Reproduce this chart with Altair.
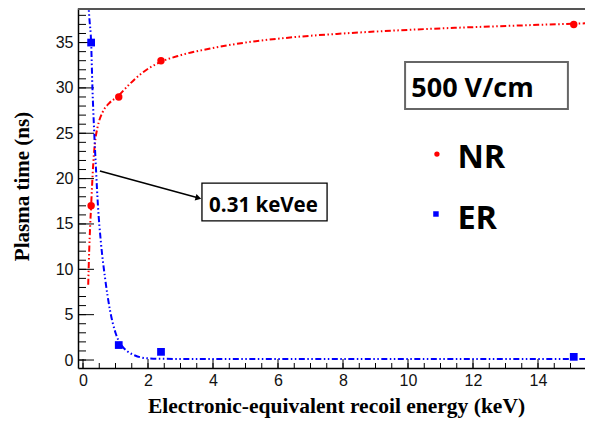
import altair as alt
import pandas as pd

# ---- data ----
nr_x = [0.25, 1.1, 2.4, 15.1]
nr_y = [17.0, 29.0, 33.0, 37.0]
er_x = [0.25, 1.1, 2.4, 15.1]
er_y = [35.0, 1.65, 0.9, 0.35]

nr_fit_x = [0.16, 0.19, 0.22, 0.25, 0.28, 0.32, 0.37, 0.45, 0.6, 0.8, 1.05, 1.4, 1.8, 2.35, 3.0, 4.0, 5.0, 6.5, 8.0, 10.0, 12.0, 14.0, 15.7]
nr_fit_y = [8.3, 12.0, 14.8, 17.0, 19.3, 21.9, 24.0, 25.7, 27.3, 28.3, 29.0, 30.3, 31.6, 32.8, 33.6, 34.4, 35.0, 35.6, 36.0, 36.4, 36.7, 36.95, 37.15]
er_fit_x = [0.16, 0.2, 0.25, 0.29, 0.34, 0.4, 0.46, 0.55, 0.68, 0.83, 1.0, 1.15, 1.35, 1.6, 1.9, 2.3, 3.0, 5.0, 8.0, 12.0, 15.7]
er_fit_y = [39.5, 37.5, 35.0, 30.0, 25.5, 21.0, 17.0, 13.0, 9.0, 5.5, 3.0, 1.8, 1.0, 0.5, 0.22, 0.14, 0.12, 0.12, 0.12, 0.12, 0.12]

x_major = [0, 2, 4, 6, 8, 10, 12, 14]
x_minor = [i * 0.5 for i in range(0, 31)]
y_major = [0, 5, 10, 15, 20, 25, 30, 35]
y_minor = list(range(0, 39))

field_label = "500 V/cm"
nr_label = "NR"
er_label = "ER"
arrow_label = "0.31 keVee"
x_title = "Electronic-equivalent recoil energy (keV)"
y_title = "Plasma time (ns)"

W, H = 507, 360
xs = alt.Scale(domain=[-0.154, 15.446], nice=False, zero=False)
ys = alt.Scale(domain=[-0.88, 38.81], nice=False, zero=False)

RED = "#ff0000"
BLUE = "#0000ff"
DASH = [6, 2.5, 1.5, 2.5, 1.5, 2.5]

axis_common = dict(grid=False, ticks=False, domainColor="black", domainWidth=1.5,
                   labelFont="Liberation Sans", labelFontSize=16, labelColor="#111",
                   titleFont="Liberation Serif", titleFontWeight="bold",
                   titleColor="black", titleBaseline="alphabetic", titleAlign="center")
xa = alt.Axis(values=x_major, format="d", title=x_title, labelPadding=4, titleFontSize=21.5,
              titleX=258, titleY=44, **axis_common)
ya = alt.Axis(values=y_major, format="d", title=y_title, labelPadding=5, titleFontSize=21,
              titleX=-50, titleY=178, titleAngle=270, **axis_common)


def XF(f):
    return alt.X(f, scale=xs, axis=xa, title=x_title)


def YF(f):
    return alt.Y(f, scale=ys, axis=ya, title=y_title)


def XD(v):
    return alt.XDatum(v, scale=xs, axis=xa, title=x_title)


def YD(v):
    return alt.YDatum(v, scale=ys, axis=ya, title=y_title)


nr_line = alt.Chart(pd.DataFrame({"x": nr_fit_x, "y": nr_fit_y})).mark_line(
    color=RED, strokeWidth=2, strokeDash=DASH, interpolate="monotone", clip=True).encode(
    x=XF("x:Q"), y=YF("y:Q"))

er_line = alt.Chart(pd.DataFrame({"x": er_fit_x, "y": er_fit_y})).mark_line(
    color=BLUE, strokeWidth=2, strokeDash=DASH, interpolate="monotone", clip=True).encode(
    x=XF("x:Q"), y=YF("y:Q"))

nr_pts = alt.Chart(pd.DataFrame({"x": nr_x, "y": nr_y})).mark_point(
    shape="circle", filled=True, color=RED, size=55, opacity=1).encode(
    x=XF("x:Q"), y=YF("y:Q"))

er_pts = alt.Chart(pd.DataFrame({"x": er_x, "y": er_y})).mark_point(
    shape="square", filled=True, color=BLUE, size=60, opacity=1).encode(
    x=XF("x:Q"), y=YF("y:Q"))


def xticks(vals, length):
    return alt.Chart(pd.DataFrame({"v": vals})).mark_rule(color="black", strokeWidth=1).encode(
        x=XF("v:Q"), y=alt.value(H), y2=alt.value(H - length))


def yticks(vals, length):
    return alt.Chart(pd.DataFrame({"v": vals})).mark_rule(color="black", strokeWidth=1).encode(
        y=YF("v:Q"), x=alt.value(0), x2=alt.value(length))


ticks = [xticks(x_minor, 5), xticks(x_major, 9), yticks(y_minor, 8), yticks(y_major, 16)]

one = pd.DataFrame({"a": [0]})

top_border = alt.Chart(one).mark_rule(color="#555", strokeWidth=2).encode(
    x=alt.value(0), x2=alt.value(W), y=alt.value(1))


def box(x1, x2, y1, y2, stroke, sw):
    return alt.Chart(one).mark_rect(fill="white", stroke=stroke, strokeWidth=sw).encode(
        x=XD(x1), x2=alt.X2Datum(x2), y=YD(y1), y2=alt.Y2Datum(y2))


def label(txt, x, y, size):
    return alt.Chart(one).mark_text(text=txt, font="Open Sans", fontWeight="bold",
                                    fontSize=size, align="left", baseline="alphabetic",
                                    color="black").encode(x=XD(x), y=YD(y))


field_box = box(9.91, 14.92, 32.86, 27.67, "#666", 2)
field_txt = label(field_label, 10.1, 29.05, 27)
nr_mark = alt.Chart(one).mark_point(shape="circle", filled=True, color=RED, size=28, opacity=1).encode(
    x=XD(10.89), y=YD(22.71))
nr_txt = label(nr_label, 11.52, 21.17, 32.5)
er_mark = alt.Chart(one).mark_point(shape="square", filled=True, color=BLUE, size=30, opacity=1).encode(
    x=XD(10.86), y=YD(16.1))
er_txt = label(er_label, 11.52, 14.44, 32.5)

arrow = alt.Chart(one).mark_rule(color="black", strokeWidth=1.5).encode(
    x=XD(0.52), x2=alt.X2Datum(3.56), y=YD(20.84), y2=alt.Y2Datum(17.86))
arrow_head = alt.Chart(one).mark_point(shape="triangle-right", filled=True, color="black",
                                       size=45, angle=15, opacity=1).encode(
    x=XD(3.55), y=YD(17.87))
ann_box = box(3.66, 7.51, 19.51, 15.33, "black", 1.3)
ann_txt = label(arrow_label, 3.88, 16.35, 20.5)

chart = alt.layer(
    nr_line, *ticks, er_line, nr_pts, er_pts, top_border,
    field_box, field_txt, nr_mark, nr_txt, er_mark, er_txt,
    arrow, arrow_head, ann_box, ann_txt,
).properties(
    width=W, height=H,
    autosize=alt.AutoSizeParams(type="none"),
    padding={"left": 70, "top": 0, "right": 0, "bottom": 52},
).configure_view(stroke=None)

chart.save("out.html", embed_options={"renderer": "svg", "actions": False})
